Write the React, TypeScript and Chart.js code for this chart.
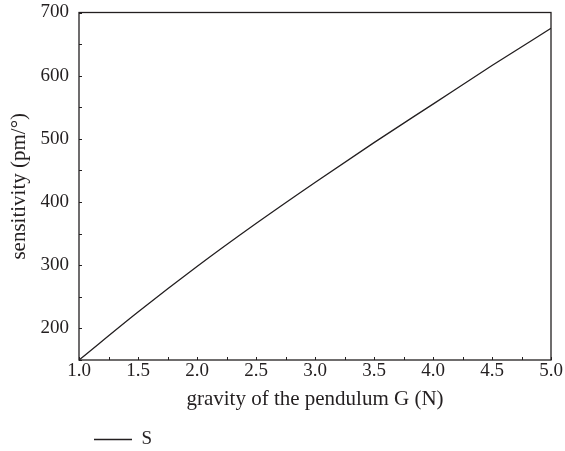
import React, { useEffect, useRef } from "react";
import { Chart, registerables } from "chart.js";

Chart.register(...registerables);

const gravity = [1.0, 1.5, 2.0, 2.5, 3.0, 3.5, 4.0, 4.5, 5.0];
const sensitivity = [150, 226, 298, 366, 431, 494, 555, 616, 675];
const seriesLabel = "S";
const xTitle = "gravity of the pendulum G (N)";
const yTitle = "sensitivity (pm/°)";

const FONT = "'Liberation Serif', 'Times New Roman', serif";
const INK = "#231f20";

const framePlugin = {
  id: "frame",
  afterDatasetsDraw(chart: any) {
    const { ctx, chartArea } = chart;
    const { left, right, top, bottom } = chartArea;
    ctx.save();
    ctx.strokeStyle = INK;
    ctx.lineWidth = 1.3;
    ctx.strokeRect(left, top, right - left, bottom - top);
    ctx.lineWidth = 1;
    const xs = chart.scales.x;
    xs.ticks.forEach((t: any) => {
      const px = Math.round(xs.getPixelForValue(t.value)) + 0.5;
      ctx.beginPath();
      ctx.moveTo(px, bottom);
      ctx.lineTo(px, bottom - 3);
      ctx.stroke();
    });
    const ys = chart.scales.y;
    ys.ticks.forEach((t: any) => {
      const py = Math.round(ys.getPixelForValue(t.value)) + 0.5;
      ctx.beginPath();
      ctx.moveTo(left, py);
      ctx.lineTo(left + 3, py);
      ctx.stroke();
    });
    ctx.restore();
  },
};

const legendShift = {
  id: "legendShift",
  afterLayout(chart: any) {
    const lg = chart.legend;
    if (!lg) return;
    const dx = 5;
    const dy = 8;
    lg.left += dx;
    lg.right += dx;
    lg.top += dy;
    lg.bottom += dy;
  },
};

export default function App() {
  const ref = useRef<HTMLCanvasElement | null>(null);
  useEffect(() => {
    document.body.style.margin = "0";
    if (!ref.current) return;
    const chart = new Chart(ref.current, {
      type: "line",
      data: {
        datasets: [
          {
            label: seriesLabel,
            data: gravity.map((g, i) => ({ x: g, y: sensitivity[i] })),
            borderColor: INK,
            backgroundColor: INK,
            borderWidth: 1.3,
            pointRadius: 0,
            cubicInterpolationMode: "monotone",
            fill: false,
          },
        ],
      },
      options: {
        animation: false,
        responsive: false,
        maintainAspectRatio: false,
        layout: { padding: { top: 12.5, right: 14, left: 0, bottom: 0 } },
        plugins: {
          tooltip: { enabled: false },
          legend: {
            display: true,
            position: "bottom",
            align: "start",
            fullSize: false,
            labels: {
              usePointStyle: true,
              pointStyle: "line",
              pointStyleWidth: 38,
              color: INK,
              padding: 10,
              font: { family: FONT, size: 19 },
            },
          },
        },
        scales: {
          x: {
            type: "linear",
            min: 1,
            max: 5,
            border: { display: false },
            grid: { display: false, drawTicks: false },
            ticks: {
              stepSize: 0.25,
              autoSkip: false,
              maxRotation: 0,
              padding: 0,
              color: INK,
              font: { family: FONT, size: 19 },
              callback: (v: any) => (Math.abs((v * 2) % 1) < 1e-9 ? Number(v).toFixed(1) : ""),
            },
            title: {
              display: true,
              text: xTitle,
              color: INK,
              font: { family: FONT, size: 21 },
              padding: { top: 0, bottom: 0 },
            },
            afterFit: (s: any) => {
              s.height = 52;
              s.paddingLeft = 0;
              s.paddingRight = 0;
            },
          },
          y: {
            min: 150,
            max: 700,
            border: { display: false },
            grid: { display: false, drawTicks: false },
            ticks: {
              stepSize: 50,
              autoSkip: false,
              padding: 10,
              color: INK,
              font: { family: FONT, size: 19 },
              callback: (v: any) => (v % 100 === 0 ? String(v) : ""),
            },
            title: {
              display: true,
              text: yTitle,
              color: INK,
              font: { family: FONT, size: 21 },
              padding: { top: 7, bottom: 0 },
            },
            afterFit: (s: any) => {
              s.width = 79;
              s.paddingTop = 0;
              s.paddingBottom = 0;
            },
          },
        },
      },
      plugins: [framePlugin, legendShift],
    });
    return () => chart.destroy();
  }, []);
  return (
    <div style={{ position: "absolute", left: 0, top: 0, width: 565, height: 451 }}>
      <canvas ref={ref} width={565} height={451} style={{ width: 565, height: 451 }} />
    </div>
  );
}
